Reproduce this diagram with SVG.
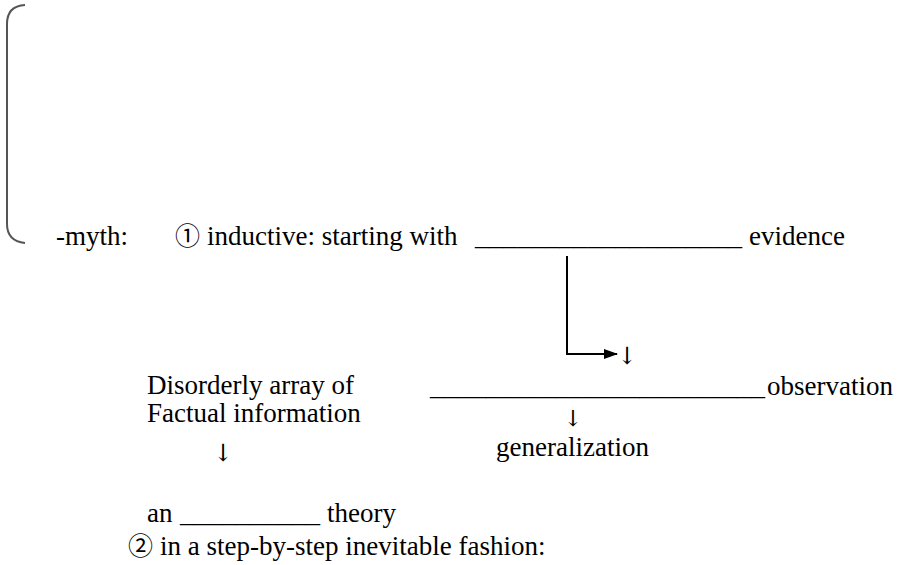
<svg xmlns="http://www.w3.org/2000/svg" width="902" height="565" viewBox="0 0 902 565">
<style>
  .brace { fill: none; stroke: #555; stroke-width: 2; }
  .conn { fill: none; stroke: #000; stroke-width: 2; }
</style>
<defs>
  <marker id="ah" markerWidth="14" markerHeight="12" refX="13" refY="6" orient="auto" markerUnits="userSpaceOnUse" viewBox="0 0 14 12">
    <path d="M0,1 L14,6 L0,11 Z" fill="#000"/>
  </marker>
</defs>
<rect width="902" height="565" fill="#fff"/>
<g id="bracket">
  <path class="brace" d="M25,5 Q7,6 7,24 L7,224 Q7,241 25,243"/>
</g>
<g id="myth">
  <text font-family="Liberation Serif, serif" font-size="27" x="56" y="245">-myth:</text>
</g>
<g id="inductive">
  <text font-family="Noto Sans CJK SC, sans-serif" font-size="25" x="175" y="245">①</text>
  <text font-family="Liberation Serif, serif" font-size="27" x="207" y="245">inductive: starting with</text>
  <text font-family="Liberation Serif, serif" font-size="27" x="475" y="245" textLength="267" lengthAdjust="spacingAndGlyphs">___________________</text>
  <text font-family="Liberation Serif, serif" font-size="27" x="749" y="245">evidence</text>
</g>
<g id="disorderly">
  <text font-family="Liberation Serif, serif" font-size="27" x="147" y="394">Disorderly array of</text>
  <text font-family="Liberation Serif, serif" font-size="27" x="147" y="422">Factual information</text>
  <text font-family="DejaVu Serif, serif" font-size="24" x="223" y="461" text-anchor="middle">↓</text>
</g>
<g id="observation">
  <text font-family="DejaVu Serif, serif" font-size="24" x="627" y="364" text-anchor="middle">↓</text>
  <text font-family="Liberation Serif, serif" font-size="27" x="430" y="395" textLength="335" lengthAdjust="spacingAndGlyphs">________________________</text>
  <text font-family="Liberation Serif, serif" font-size="27" x="767" y="395">observation</text>
  <text font-family="DejaVu Serif, serif" font-size="22" x="573" y="426" text-anchor="middle">↓</text>
</g>
<g id="generalization">
  <text font-family="Liberation Serif, serif" font-size="27" x="496" y="456">generalization</text>
</g>
<g id="theory">
  <text font-family="Liberation Serif, serif" font-size="27" x="147" y="522">an</text>
  <text font-family="Liberation Serif, serif" font-size="27" x="180" y="522" textLength="140" lengthAdjust="spacingAndGlyphs">__________</text>
  <text font-family="Liberation Serif, serif" font-size="27" x="327" y="522">theory</text>
</g>
<g id="stepbystep">
  <text font-family="Noto Sans CJK SC, sans-serif" font-size="25" x="128" y="555">②</text>
  <text font-family="Liberation Serif, serif" font-size="27" x="160" y="555">in a step-by-step inevitable fashion:</text>
</g>
<g id="connectors">
  <path class="conn" d="M567,256 L567,354 L617,354" marker-end="url(#ah)"/>
</g>
</svg>
